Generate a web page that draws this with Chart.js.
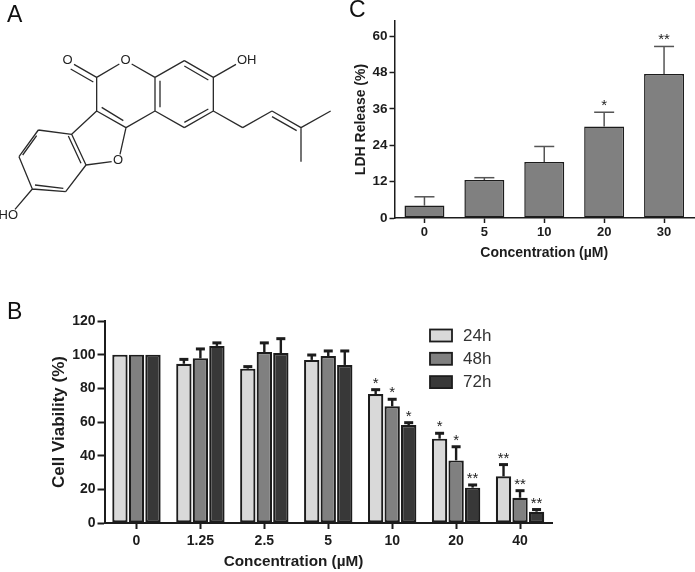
<!doctype html>
<html lang="en">
  <head>
    <meta charset="utf-8">
    <title>Cell viability and LDH release</title>
    <style>
      * { margin: 0; padding: 0; }
      body { width: 695px; height: 572px; background: white; position: relative; overflow: hidden; font-family: "Liberation Sans", sans-serif; }
      canvas { position: absolute; }
      .panel { position: absolute; font-size: 23px; line-height: 26px; color: #111; }
    </style>
  </head>
  <body>
    <canvas id="chartA" width="345" height="240" style="left:0;top:0"></canvas>
    <canvas id="chartC" width="350" height="270" style="left:345px;top:0"></canvas>
    <canvas id="chartB" width="560" height="282" style="left:0;top:290px"></canvas>
    <div class="panel" style="left:7px;top:1px">A</div>
    <div class="panel" style="left:7px;top:298px">B</div>
    <div class="panel" style="left:349px;top:-4px">C</div>

    <script src="https://cdn.jsdelivr.net/npm/chart.js/dist/chart.umd.min.js"></script>
    <script>
    // panel B data
    const categoriesB = ['0', '1.25', '2.5', '5', '10', '20', '40'];
    const seriesNamesB = ['24h', '48h', '72h'];
    const values24 = [100, 94.6, 91.7, 96.9, 76.6, 50.1, 27.7];
    const values48 = [100, 97.8, 101.6, 99.2, 69.3, 37.2, 15];
    const values72 = [100, 105.2, 101, 93.9, 58.2, 21, 6.7];
    const errTop24 = [null, 97.2, 92.9, 99.8, 79.2, 53.3, 34.7];
    const errTop48 = [null, 103.4, 107, 102.2, 73.5, 45.3, 19.2];
    const errTop72 = [null, 107, 109.5, 102.2, 59.6, 22.6, 8];
    const stars24 = ['', '', '', '', '*', '*', '**'];
    const stars48 = ['', '', '', '', '*', '*', '**'];
    const stars72 = ['', '', '', '', '*', '**', '**'];
    const ticksB = [0, 20, 40, 60, 80, 100, 120];

    // panel C data
    const categoriesC = ['0', '5', '10', '20', '30'];
    const valuesC = [4.1, 12.5, 18.5, 30.2, 47.5];
    const errTopC = [7, 13.3, 23.6, 34.9, 56.6];
    const starsC = ['', '', '', '*', '**'];
    const ticksC = [0, 12, 24, 36, 48, 60];

    // panel A structure, units are 1/3 px of the panel
    const bonds = [
      [222, 193, 290, 232], [212, 207, 280, 246],
      [290, 232, 358, 192], [395, 192, 465, 232],
      [465, 232, 553, 182], [553, 182, 640, 232], [553, 198, 625, 240],
      [640, 232, 640, 333], [640, 333, 553, 383], [625, 327, 553, 367],
      [553, 383, 465, 333], [465, 333, 465, 232], [480, 322, 480, 242],
      [640, 232, 708, 193],
      [640, 333, 728, 383], [728, 383, 816, 333], [816, 333, 903, 383], [816, 350, 890, 392],
      [903, 383, 992, 333], [903, 383, 903, 485],
      [465, 333, 378, 383], [378, 383, 290, 333], [370, 362, 305, 322],
      [290, 333, 290, 232],
      [290, 333, 215, 403], [215, 403, 258, 495], [205, 408, 243, 490],
      [215, 403, 115, 390], [115, 390, 57, 470], [110, 407, 68, 465],
      [57, 470, 97, 567], [97, 567, 197, 575], [105, 555, 190, 565],
      [197, 575, 258, 495],
      [258, 495, 335, 485], [360, 463, 378, 383],
      [97, 567, 45, 628]
    ];
    const atoms = [
      ['O', 203, 182], ['O', 377, 181], ['OH', 740, 181], ['O', 354, 482], ['HO', 25, 646]
    ];

    const darkLine = '#1c1c1c';
    const boldFont = '"Liberation Sans", sans-serif';

    const errorBars = {
      id: 'errorBars',
      beforeDatasetsDraw(chart, args, opts) {
        const { ctx, scales: { y } } = chart;
        ctx.save();
        chart.data.datasets.forEach((ds, i) => {
          chart.getDatasetMeta(i).data.forEach((bar, j) => {
            const top = ds.errTop[j];
            if (top !== null) {
              const py = y.getPixelForValue(top);
              ctx.strokeStyle = opts.color;
              ctx.lineWidth = opts.stem;
              ctx.beginPath();
              ctx.moveTo(bar.x, y.getPixelForValue(ds.data[j]));
              ctx.lineTo(bar.x, py);
              ctx.stroke();
              ctx.lineWidth = opts.capThick;
              ctx.beginPath();
              ctx.moveTo(bar.x - opts.cap / 2, py);
              ctx.lineTo(bar.x + opts.cap / 2, py);
              ctx.stroke();
            }
            if (ds.stars[j]) {
              ctx.fillStyle = '#222';
              ctx.font = '15px ' + boldFont;
              ctx.textAlign = 'center';
              ctx.textBaseline = 'alphabetic';
              ctx.fillText(ds.stars[j], bar.x, y.getPixelForValue(top) + opts.starShift);
            }
          });
        });
        ctx.restore();
      }
    };

    // legend and off-centre x title of panel B
    const panelBExtras = {
      id: 'panelBExtras',
      afterDraw(chart) {
        const { ctx } = chart;
        ctx.save();
        chart.data.datasets.forEach((ds, i) => {
          const top = 39.5 + i * 23.3;
          ctx.fillStyle = ds.backgroundColor;
          ctx.strokeStyle = darkLine;
          ctx.lineWidth = 1.8;
          ctx.fillRect(430, top, 22, 12);
          ctx.strokeRect(430, top, 22, 12);
          ctx.fillStyle = '#333';
          ctx.font = '17px ' + boldFont;
          ctx.textAlign = 'left';
          ctx.textBaseline = 'middle';
          ctx.fillText(ds.label, 463, top + 6.5);
        });
        ctx.fillStyle = '#1c1c1c';
        ctx.font = 'bold 15.3px ' + boldFont;
        ctx.textAlign = 'center';
        ctx.textBaseline = 'middle';
        ctx.fillText('Concentration (µM)', 293.5, 272);
        ctx.restore();
      }
    };

    // atom labels of the structure
    const atomLabels = {
      id: 'atomLabels',
      afterDatasetsDraw(chart) {
        const { ctx, scales: { x, y } } = chart;
        ctx.save();
        ctx.fillStyle = '#222';
        ctx.font = '13px ' + boldFont;
        ctx.textAlign = 'center';
        ctx.textBaseline = 'middle';
        atoms.forEach(([t, ax, ay]) => ctx.fillText(t, x.getPixelForValue(ax), y.getPixelForValue(ay)));
        ctx.restore();
      }
    };

    function makeBar(label, data, errTop, stars, color, borderWidth) {
      return { label, data, errTop, stars, backgroundColor: color, borderColor: darkLine, borderWidth, borderSkipped: false };
    }

    Chart.defaults.animation = false;
    Chart.defaults.responsive = false;

    new Chart(document.getElementById('chartB'), {
      type: 'bar',
      data: {
        labels: categoriesB,
        datasets: [
          makeBar(seriesNamesB[0], values24, errTop24, stars24, '#d9d9d9', 2.2),
          makeBar(seriesNamesB[1], values48, errTop48, stars48, '#808080', 2.2),
          makeBar(seriesNamesB[2], values72, errTop72, stars72, '#383838', 2.2)
        ]
      },
      options: {
        categoryPercentage: 0.775,
        barPercentage: 0.93,
        layout: { padding: { top: 31, right: 8 } },
        plugins: {
          legend: { display: false },
          tooltip: { enabled: false },
          errorBars: { color: darkLine, stem: 2.4, capThick: 3, cap: 9, starShift: -2 }
        },
        scales: {
          x: {
            afterFit: s => { s.height = 49; },
            grid: { offset: false, drawOnChartArea: false, tickLength: 6, tickWidth: 2, tickColor: darkLine },
            border: { color: darkLine, width: 2 },
            ticks: { color: '#1c1c1c', padding: 4, maxRotation: 0, autoSkip: false, font: { family: boldFont, weight: 'bold', size: 14 } }
          },
          y: {
            min: 0,
            max: 120,
            afterFit: s => { s.width = 104.5; },
            afterBuildTicks: s => { s.ticks = ticksB.map(value => ({ value })); },
            grid: { drawOnChartArea: false, tickLength: 7, tickWidth: 2, tickColor: darkLine },
            border: { color: darkLine, width: 2 },
            ticks: { color: '#1c1c1c', padding: 2, font: { family: boldFont, weight: 'bold', size: 14 } },
            title: { display: true, text: 'Cell Viability (%)', color: '#1c1c1c', padding: { top: 49, bottom: 0 }, font: { family: boldFont, weight: 'bold', size: 17 } }
          }
        }
      },
      plugins: [errorBars, panelBExtras]
    });

    new Chart(document.getElementById('chartC'), {
      type: 'bar',
      data: {
        labels: categoriesC,
        datasets: [makeBar('LDH', valuesC, errTopC, starsC, '#808080', 1.5)]
      },
      options: {
        categoryPercentage: 1,
        barPercentage: 0.667,
        layout: { padding: { top: 21, right: 1 } },
        plugins: {
          legend: { display: false },
          tooltip: { enabled: false },
          errorBars: { color: '#555', stem: 1.5, capThick: 1.5, cap: 20, starShift: -2.5 }
        },
        scales: {
          x: {
            afterFit: s => { s.height = 52; },
            grid: { offset: false, drawOnChartArea: false, tickLength: 5, tickWidth: 1.5, tickColor: darkLine },
            border: { color: darkLine, width: 1.5 },
            ticks: { color: '#1c1c1c', padding: 2, maxRotation: 0, autoSkip: false, font: { family: boldFont, weight: 'bold', size: 13 } },
            title: { display: true, text: 'Concentration (µM)', color: '#1c1c1c', padding: { top: 0, bottom: 8 }, font: { family: boldFont, weight: 'bold', size: 14 } }
          },
          y: {
            min: 0,
            max: 65,
            afterFit: s => { s.width = 49.5; },
            afterBuildTicks: s => { s.ticks = ticksC.map(value => ({ value })); },
            grid: { drawOnChartArea: false, tickLength: 5, tickWidth: 1.5, tickColor: darkLine },
            border: { color: darkLine, width: 1.5 },
            ticks: { color: '#1c1c1c', padding: 2, font: { family: boldFont, weight: 'bold', size: 13.5 } },
            title: { display: true, text: 'LDH Release (%)', color: '#1c1c1c', padding: { top: 8, bottom: 0 }, font: { family: boldFont, weight: 'bold', size: 14 } }
          }
        }
      },
      plugins: [errorBars]
    });

    // bonds as one broken line, null points split the segments
    const bondPoints = [];
    bonds.forEach(([x1, y1, x2, y2]) => {
      bondPoints.push({ x: x1, y: y1 }, { x: x2, y: y2 }, { x: null, y: null });
    });

    new Chart(document.getElementById('chartA'), {
      type: 'scatter',
      data: {
        datasets: [{ data: bondPoints, showLine: true, spanGaps: false, borderColor: '#2a2a2a', borderWidth: 1.3, pointRadius: 0 }]
      },
      options: {
        plugins: { legend: { display: false }, tooltip: { enabled: false } },
        scales: {
          x: { display: false, min: 0, max: 1035 },
          y: { display: false, min: 0, max: 720, reverse: true }
        }
      },
      plugins: [atomLabels]
    });
    </script>
  </body>
</html>
